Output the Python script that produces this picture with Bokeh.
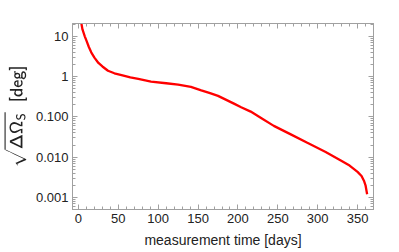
from bokeh.plotting import figure
from bokeh.models import FixedTicker, LinearAxis, LogAxis, Range1d
from bokeh.embed import file_html
from bokeh.resources import INLINE

days = [3, 5, 8, 10, 13, 16, 20, 25, 30, 37, 45, 54, 65, 75, 91, 110, 125, 141,
        154, 165, 175, 195, 204, 216, 230, 245, 265, 287, 310, 329, 340, 350,
        355, 358, 360, 362]
vals = [25, 15, 10, 7.9, 5.5, 4.05, 3.0, 2.2, 1.8, 1.41, 1.22, 1.1, 0.96, 0.88,
        0.76, 0.69, 0.64, 0.56, 0.46, 0.39, 0.335, 0.215, 0.175, 0.136, 0.092,
        0.06, 0.038, 0.0228, 0.0135, 0.0083, 0.0062, 0.0043, 0.0034, 0.0026,
        0.0020, 0.0012]

x_ticks = [0, 50, 100, 150, 200, 250, 300, 350]
x_minor = list(range(-10, 371, 10))
y_ticks = [0.001, 0.01, 0.1, 1, 10]
y_tick_labels = ["0.001", "0.010", "0.100", "1", "10"]
y_minor = [m * 10.0 ** e for e in range(-4, 2) for m in range(1, 10)]

FONT = "Liberation Sans"
GRAY = "#a0a0a0"

p = figure(width=391, height=250, output_backend="svg", toolbar_location=None,
           y_axis_type="log", x_range=Range1d(-7.5, 370),
           y_range=Range1d(0.0005, 21.1),
           min_border_left=71, min_border_right=18, min_border_top=23,
           min_border_bottom=41)
p.grid.visible = False
p.outline_line_color = GRAY
p.background_fill_color = "white"
p.border_fill_color = "white"

p.line(days, vals, line_color="#ff0000", line_width=2.3)

xt = FixedTicker(ticks=x_ticks, minor_ticks=x_minor)
yt = FixedTicker(ticks=y_ticks, minor_ticks=y_minor)

def style(ax, labels=True):
    ax.axis_line_color = GRAY
    ax.major_tick_line_color = GRAY
    ax.minor_tick_line_color = GRAY
    ax.major_tick_in = 5
    ax.major_tick_out = 0
    ax.minor_tick_in = 3
    ax.minor_tick_out = 0
    ax.major_label_text_font = FONT
    ax.major_label_text_font_size = "13px"
    ax.major_label_text_color = "#222222"
    ax.axis_label_text_font = FONT
    ax.axis_label_text_font_size = "14px"
    ax.axis_label_text_font_style = "normal"
    ax.axis_label_text_color = "#222222"
    if not labels:
        ax.major_label_text_font_size = "0px"
        ax.major_label_text_alpha = 0

xa = p.xaxis[0]
xa.ticker = xt
style(xa)
xa.major_label_standoff = 4
xa.axis_label = "measurement time [days]"
xa.axis_label_standoff = 6

ya = p.yaxis[0]
ya.ticker = yt
style(ya)
ya.major_label_overrides = {v: s for v, s in zip(y_ticks, y_tick_labels)}
ya.major_label_standoff = 4
ya.axis_label = r"$$\sqrt{\mathsf{\Delta\Omega_S}}\;\;\mathsf{[deg]}$$"
ya.axis_label_standoff = 6

top = LinearAxis(ticker=FixedTicker(ticks=x_ticks, minor_ticks=x_minor))
style(top, labels=False)
p.add_layout(top, "above")
right = LogAxis(ticker=FixedTicker(ticks=y_ticks, minor_ticks=y_minor))
style(right, labels=False)
p.add_layout(right, "right")

open("out.html", "w").write(file_html(p, INLINE))
